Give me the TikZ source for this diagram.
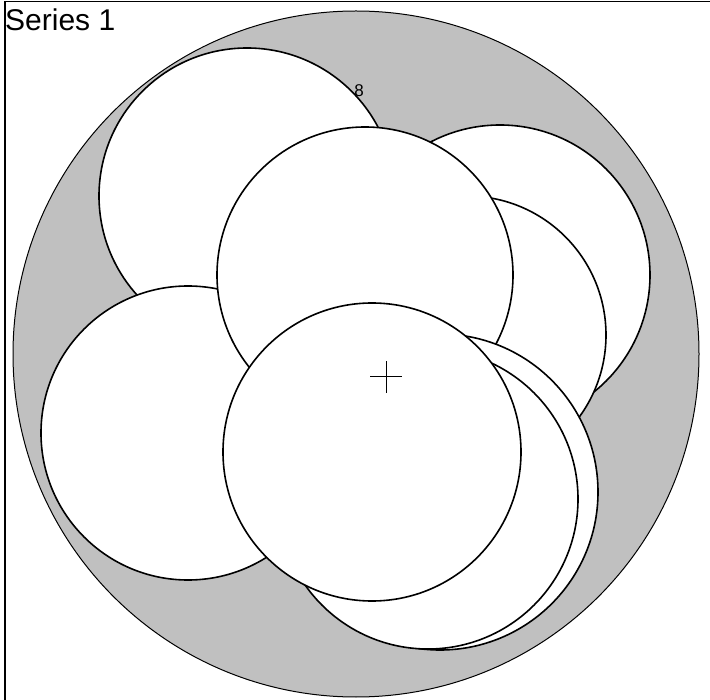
\documentclass[tikz,border=0pt]{standalone}
\usepackage{fontspec}
\setmainfont{Liberation Sans}
\definecolor{chartgrey}{RGB}{192,192,192}
\begin{document}
\begin{tikzpicture}[x=1pt,y=-1pt,
  bub/.style={draw=black, line width=1.6pt, fill=white},
  outer/.style={draw=black, line width=1pt, fill=chartgrey}]
\useasboundingbox (0,0) rectangle (710,700);
\begin{scope}
  \clip (0,0) rectangle (710,700);
  \draw[line width=1.5pt] (5,1.5) rectangle (780,780);
\end{scope}
\node[anchor=base west, font=\fontsize{30}{32}\selectfont, inner sep=0pt] (title) at (5,31) {Series 1};
\draw[outer] (356,354) circle[radius=343];
% bubbles, back to front
\draw[bub] (247,196) circle[radius=148];
\draw[bub] (188,433) circle[radius=147];
\draw[bub] (500,275) circle[radius=150];
\draw[bub] (467,335) circle[radius=139];
\draw[bub] (365,275) circle[radius=148];
\draw[bub] (440,492) circle[radius=158];
\draw[bub] (428,499) circle[radius=150];
\draw[bub] (372,452) circle[radius=149];
\node[font=\fontsize{17}{19}\selectfont, inner sep=0pt] (lab) at (359,91) {8};
\coordinate (ctr) at (386,377);
\draw[line width=1pt] ([xshift=-16pt]ctr) -- ([xshift=16pt]ctr);
\draw[line width=1pt] ([yshift=-16pt]ctr) -- ([yshift=16pt]ctr);
\end{tikzpicture}
\end{document}
